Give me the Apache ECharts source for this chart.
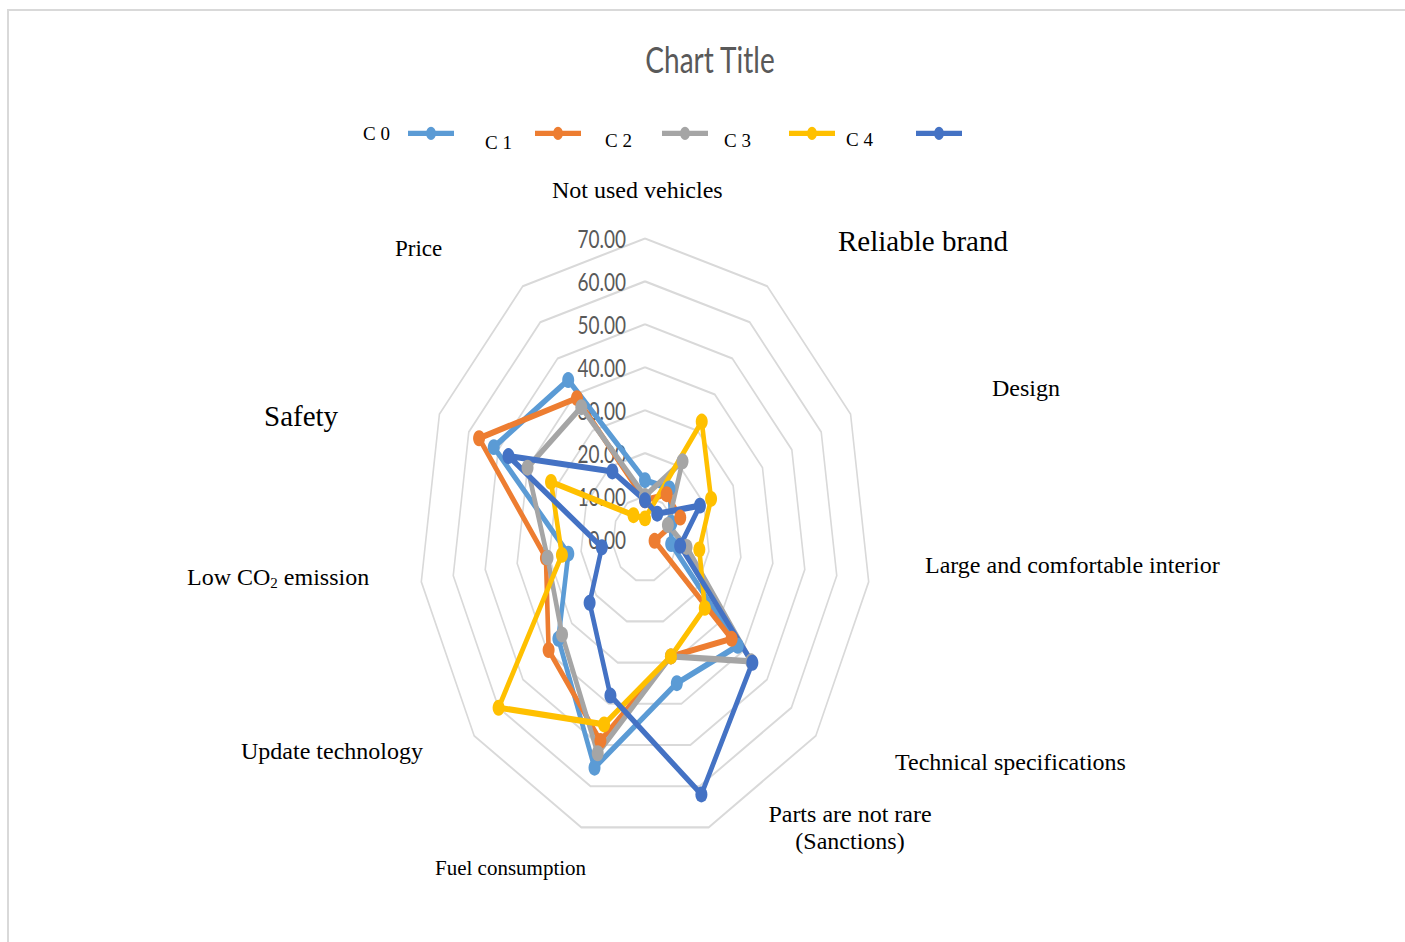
<!DOCTYPE html>
<html>
<head>
<meta charset="utf-8">
<title>Chart Title</title>
<script src="https://cdn.jsdelivr.net/npm/echarts@6/dist/echarts.min.js"></script>
<style>
  html, body { margin: 0; padding: 0; background: #ffffff; }
  #stage { position: relative; width: 1405px; height: 942px; overflow: hidden; }
  /* the radar layer is drawn round and then stretched vertically into an oval */
  #radarLayer { position: absolute; left: 0; top: 0; width: 1405px; height: 942px;
                transform-origin: 645px 539px; transform: scale(1, 1.33); }
  #textLayer { position: absolute; left: 0; top: 0; width: 1405px; height: 942px; }
</style>
</head>
<body>
<div id="stage">
  <div id="radarLayer"></div>
  <div id="textLayer"></div>
</div>
<script>
// Criteria, listed clockwise starting from the top spoke
const categories = [
  'Not used vehicles',
  'Reliable brand',
  'Design',
  'Large and comfortable interior',
  'Technical specifications',
  'Parts are not rare\n(Sanctions)',
  'Fuel consumption',
  'Update technology',
  'Low CO{sub|2} emission',
  'Safety',
  'Price'
];

const seriesNames = ['C 0', 'C 1', 'C 2', 'C 3', 'C 4'];

// Scores per criterion, same order as categories
const c0 = [13.7, 14.0,  9.0,  8.2, 38.0, 35.0, 55.5, 35.5, 24.0, 51.5, 44.0];
const c1 = [ 9.0, 12.4, 12.0,  3.0, 35.5, 28.5, 49.0, 39.5, 31.0, 56.5, 39.0];
const c2 = [10.0, 21.5,  7.8, 13.0, 43.5, 28.5, 52.0, 34.0, 30.5, 40.0, 36.5];
const c3 = [ 4.8, 32.5, 22.5, 17.0, 24.5, 28.5, 45.0, 60.0, 26.0, 32.0,  6.6];
const c4 = [ 9.0,  7.0, 18.7, 11.0, 44.0, 62.0, 38.0, 22.7, 13.5, 46.5, 18.7];

// Radial scale
const axisMin = 0;
const axisMax = 70;
const axisSplits = 7;

const seriesValues = [c0, c1, c2, c3, c4];
const seriesColors = ['#5B9BD5', '#ED7D31', '#A5A5A5', '#FFC000', '#4472C4'];

// Free-standing criterion captions: [x, y, fontSize, align]
const captionPlacement = [
  [552, 190, 24, 'left'],
  [838, 241, 29, 'left'],
  [992, 388, 24, 'left'],
  [925, 565, 24, 'left'],
  [895, 762, 24, 'left'],
  [850, 827, 24, 'center'],
  [435, 868, 21, 'left'],
  [241, 751, 24, 'left'],
  [187, 577, 24, 'left'],
  [264, 416, 29, 'left'],
  [395, 248, 23, 'left']
];
// Legend captions: [x, y]
const legendCaptionPlacement = [[363, 133], [485, 142], [605, 140], [724, 140], [846, 139]];

// ECharts lays radar spokes out counter-clockwise; feed them in reverse after the first
const spokeOrder = categories.map((_, i) => (i === 0 ? 0 : categories.length - i));

const radarChart = echarts.init(document.getElementById('radarLayer'), null, { renderer: 'svg' });

const legendIcon = 'path://M0,3.1h46v3.8h-46z M23,0a5,5 0 1,1 0,10a5,5 0 1,1 0,-10z';

radarChart.setOption({
  animation: false,
  title: {
    text: 'Chart Title',
    left: 705,
    top: 158.5,
    textAlign: 'center',
    textStyle: { fontFamily: 'Lato', fontSize: 28, fontWeight: 'normal', color: '#595959' }
  },
  legend: {
    data: seriesNames,
    left: 403,
    top: 224,
    itemWidth: 46,
    itemHeight: 10,
    itemGap: 81,
    icon: legendIcon,
    selectedMode: false,
    formatter: () => '',
    itemStyle: { borderWidth: 0 }
  },
  radar: {
    center: [645, 539],
    radius: 226,
    startAngle: 90,
    splitNumber: axisSplits,
    shape: 'polygon',
    axisName: { show: false },
    axisLine: { show: false },
    axisTick: { show: false },
    axisLabel: { show: false },
    splitLine: { lineStyle: { color: '#D9D9D9', width: 1.6 } },
    splitArea: { show: false },
    indicator: spokeOrder.map((k, i) => {
      const ind = { name: categories[k], min: axisMin, max: axisMax };
      if (i === 0) {
        ind.axisLabel = {
          show: true,
          margin: 19,
          fontFamily: 'Lato',
          fontSize: 19,
          color: '#595959',
          formatter: v => Number(v).toFixed(2)
        };
      }
      return ind;
    })
  },
  series: seriesNames.map((name, s) => ({
    type: 'radar',
    name: name,
    symbol: 'circle',
    symbolSize: 12,
    lineStyle: { width: 4.6, color: seriesColors[s] },
    itemStyle: { color: seriesColors[s] },
    data: [{ name: name, value: spokeOrder.map(k => seriesValues[s][k]) }]
  }))
});

// Unstretched text layer: captions and frame
const textChart = echarts.init(document.getElementById('textLayer'), null, { renderer: 'svg' });
const serif = '"Liberation Serif", "Times New Roman", serif';

const captionElements = categories.map((text, i) => {
  const [x, y, size, align] = captionPlacement[i];
  return {
    type: 'text',
    x: x,
    y: y,
    style: {
      text: text,
      font: size + 'px ' + serif,
      fill: '#000000',
      align: align,
      textAlign: align,
      verticalAlign: 'middle',
      textVerticalAlign: 'middle',
      lineHeight: 27,
      rich: { sub: { fontSize: 15, fontFamily: serif, verticalAlign: 'bottom', lineHeight: 22 } }
    }
  };
});

const legendCaptions = seriesNames.map((name, i) => ({
  type: 'text',
  x: legendCaptionPlacement[i][0],
  y: legendCaptionPlacement[i][1],
  style: {
    text: name,
    font: '19px ' + serif,
    fill: '#000000',
    align: 'left',
    textAlign: 'left',
    verticalAlign: 'middle',
    textVerticalAlign: 'middle'
  }
}));

textChart.setOption({
  graphic: [
    { type: 'polyline', shape: { points: [[8, 942], [8, 10], [1405, 10]] },
      style: { stroke: '#D9D9D9', lineWidth: 2, fill: null } }
  ].concat(captionElements, legendCaptions)
});
</script>
</body>
</html>
